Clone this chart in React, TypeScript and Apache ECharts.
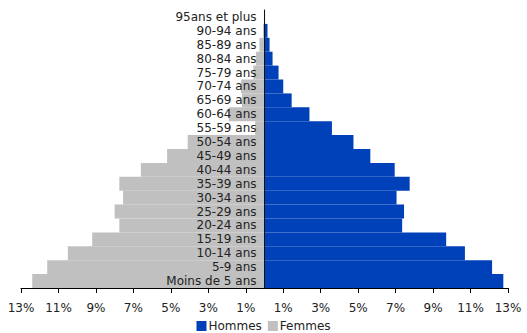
import React, { useEffect, useRef } from "react";
import * as echarts from "echarts";

// Age groups, from youngest (bottom) to oldest (top)
const ageGroups = [
  "Moins de 5 ans", "5-9 ans", "10-14 ans", "15-19 ans", "20-24 ans",
  "25-29 ans", "30-34 ans", "35-39 ans", "40-44 ans", "45-49 ans",
  "50-54 ans", "55-59 ans", "60-64 ans", "65-69 ans", "70-74 ans",
  "75-79 ans", "80-84 ans", "85-89 ans", "90-94 ans", "95ans et plus",
];

// Share of the population, in percent
const hommes = [
  12.75, 12.15, 10.7, 9.7, 7.35, 7.45, 7.05, 7.75, 6.95, 5.65,
  4.75, 3.6, 2.4, 1.45, 1.0, 0.75, 0.43, 0.27, 0.16, 0.03,
];
const femmes = [
  12.4, 11.6, 10.5, 9.2, 7.75, 8.0, 7.55, 7.75, 6.6, 5.2,
  4.1, 0.5, 1.9, 1.2, 1.25, 0.6, 0.45, 0.27, 0.08, 0.03,
];

const FONT = "DejaVu Sans";
const WIDTH = 527;
const HEIGHT = 333;
const GRID_LEFT = 21;
const GRID_RIGHT = 19;

export default function App() {
  const ref = useRef<HTMLDivElement>(null);

  useEffect(() => {
    if (!ref.current) return;
    const chart = echarts.init(ref.current, null, { renderer: "svg" });
    // the age axis sits on the 0 of the value axis, halfway across the grid
    const half = (WIDTH - GRID_LEFT - GRID_RIGHT) / 2;
    chart.setOption({
      animation: false,
      textStyle: { fontFamily: FONT },
      legend: {
        data: ["Hommes", "Femmes"],
        bottom: -4,
        left: "center",
        icon: "rect",
        itemWidth: 10,
        itemHeight: 10,
        itemGap: 6,
        textStyle: { fontSize: 12, color: "#222", fontFamily: FONT, padding: [0, 0, 0, -3] },
      },
      grid: {
        left: GRID_LEFT,
        right: GRID_RIGHT,
        top: 10,
        bottom: 45,
        containLabel: false,
        outerBoundsMode: "none",
      },
      xAxis: {
        type: "value",
        min: -13,
        max: 13,
        interval: 2,
        splitLine: { show: false },
        axisLine: { show: true, onZero: false, lineStyle: { color: "#000", width: 1 } },
        axisTick: { show: true, length: 5, lineStyle: { color: "#000" } },
        axisLabel: {
          fontSize: 12,
          color: "#222",
          margin: 14,
          fontFamily: FONT,
          formatter: (v: number) => Math.abs(v) + "%",
        },
      },
      yAxis: {
        type: "category",
        data: ageGroups,
        z: 5,
        offset: -half,
        axisLine: { show: true, onZero: false, lineStyle: { color: "#111", width: 1 } },
        axisTick: { show: false },
        axisLabel: { interval: 0, fontSize: 12, color: "#222", margin: 8, fontFamily: FONT },
      },
      series: [
        {
          name: "Hommes",
          type: "bar",
          stack: "pyramide",
          barCategoryGap: 0,
          itemStyle: { color: "#0041B9" },
          data: hommes,
        },
        {
          name: "Femmes",
          type: "bar",
          stack: "pyramide",
          barCategoryGap: 0,
          itemStyle: { color: "#C0C0C0" },
          data: femmes.map((v) => -v),
        },
      ],
    });
    return () => chart.dispose();
  }, []);

  return (
    <div
      ref={ref}
      style={{ position: "absolute", left: 0, top: 0, width: WIDTH, height: HEIGHT }}
    />
  );
}
